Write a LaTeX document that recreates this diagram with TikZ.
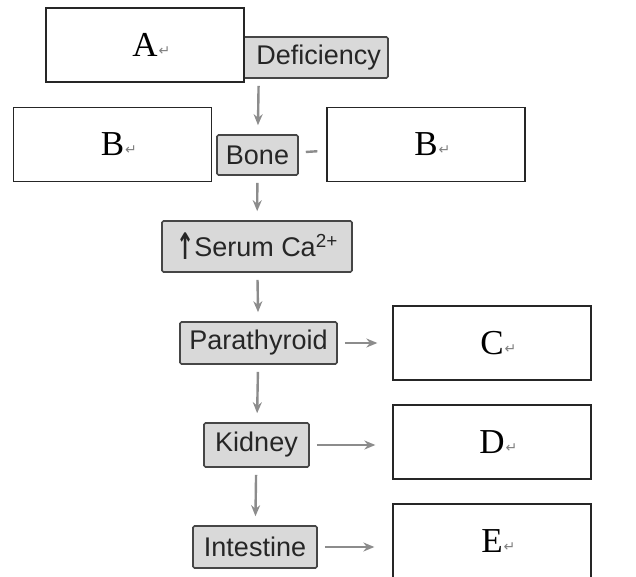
\documentclass[tikz,border=0pt]{standalone}
\usepackage{fontspec}
\setmainfont{Liberation Serif}
\setsansfont{Liberation Sans}
\newfontfamily\markfont{DejaVu Sans}
\usetikzlibrary{arrows.meta}
\newcommand{\parmark}{\rlap{\hspace{1pt}\raisebox{1pt}{\markfont\fontsize{14}{14}\selectfont\color{gray}↵}}}

\begin{document}
\begin{tikzpicture}[x=1pt,y=-1pt,>={Stealth[length=11pt,width=9pt]},
  stage/.style={draw=gray!55!black,line width=1.6pt,fill=gray!30,rounded corners=1.5pt,inner sep=0pt,text=black!85,font=\sffamily\fontsize{27}{27}\selectfont},
  answer/.style={draw=black!85,line width=1.3pt,fill=white,minimum width=198pt,minimum height=74pt,inner sep=0pt,font=\fontsize{35}{35}\selectfont},
  flow/.style={->,gray!90,line width=2.4pt,shorten <=7pt,shorten >=9pt}]
\useasboundingbox (0,0) rectangle (636,577);
% flow chart
\node[stage,minimum width=258pt,minimum height=41pt,text width=244pt,align=right] (def) at (259,57.5) {Deficiency};
\node[stage,minimum width=81pt,minimum height=40pt] (bone) at (257.5,155) {Bone};
\node[stage,minimum width=190pt,minimum height=51pt] (serum) at (257,246.5) {\raisebox{-3pt}{\scalebox{0.8}[1.35]{\markfont\bfseries ↑}}Serum Ca\textsuperscript{2+}};
\node[stage,minimum width=157pt,minimum height=42pt] (para) at (258.5,343) {Parathyroid};
\node[stage,minimum width=105pt,minimum height=44pt] (kid) at (256.5,445) {Kidney};
\node[stage,minimum width=124pt,minimum height=42pt] (int) at (255,547) {Intestine};
%
\draw [flow] (def) -- (bone);
\draw [flow] (bone) -- (serum);
\draw [flow] (serum) -- (para);
\draw [flow] (para) -- (kid);
\draw [flow] (kid) -- (int);
% answer boxes
\node[answer] (a) at (145,45) {A\parmark};
\node[answer] (bl) at (112.5,144.5) {B\parmark};
\node[answer] (br) at (426,144.5) {B\parmark};
\node[answer] (c) at (492,343) {C\parmark};
\node[answer] (d) at (492,442) {D\parmark};
\node[answer] (e) at (492,541) {E\parmark};
%
\draw [flow,-] (bone) -- (br);
\draw [flow,shorten >=15pt] (para) -- (para -| c.west);
\draw [flow,shorten >=17pt] (kid) -- (kid -| d.west);
\draw [flow,shorten >=18pt] (int) -- (int -| e.west);
\end{tikzpicture}
\end{document}
